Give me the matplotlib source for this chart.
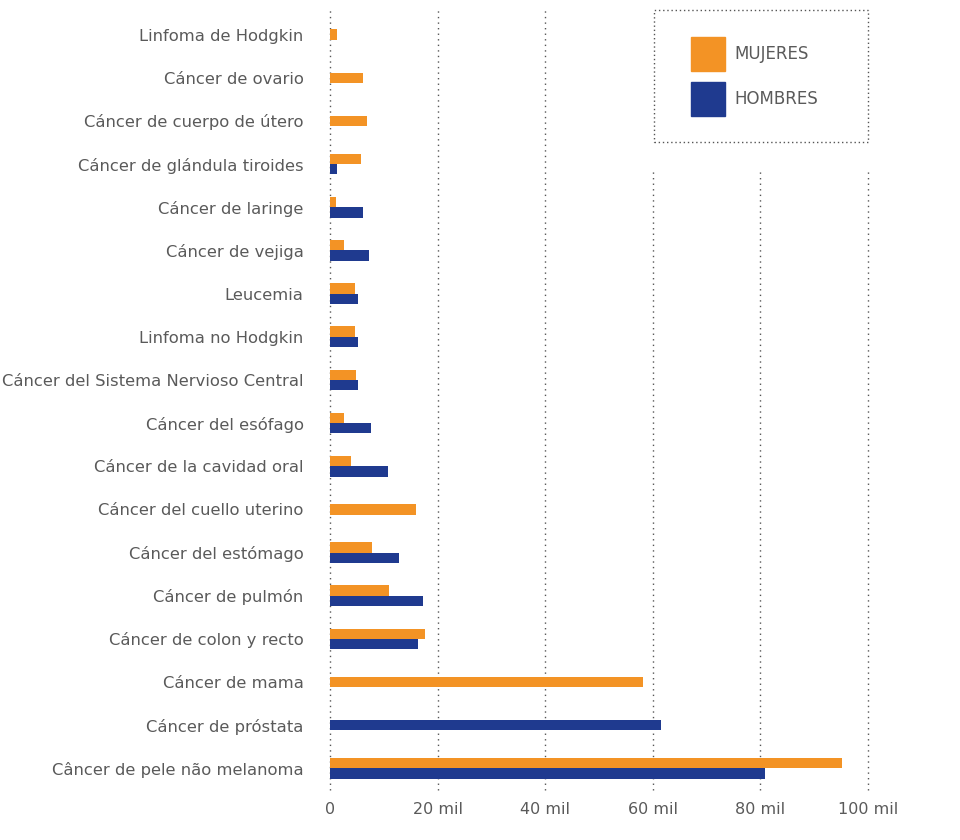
import matplotlib.pyplot as plt
import numpy as np
from matplotlib.patches import Rectangle

plt.rcParams['font.family'] = ['DejaVu Sans']

categorias = [
    "Linfoma de Hodgkin",
    "Cáncer de ovario",
    "Cáncer de cuerpo de útero",
    "Cáncer de glándula tiroides",
    "Cáncer de laringe",
    "Cáncer de vejiga",
    "Leucemia",
    "Linfoma no Hodgkin",
    "Cáncer del Sistema Nervioso Central",
    "Cáncer del esófago",
    "Cáncer de la cavidad oral",
    "Cáncer del cuello uterino",
    "Cáncer del estómago",
    "Cáncer de pulmón",
    "Cáncer de colon y recto",
    "Cáncer de mama",
    "Cáncer de próstata",
    "Câncer de pele não melanoma",
]
# miles de casos (None = sin barra)
mujeres = [1.3, 6.1, 6.9, 5.8, 1.1, 2.6, 4.6, 4.6, 4.8, 2.6, 3.9, 16.0, 7.8, 11.0, 17.7, 58.2, None, 95.2]
hombres = [None, None, None, 1.3, 6.1, 7.2, 5.2, 5.2, 5.2, 7.6, 10.8, None, 12.8, 17.3, 16.4, None, 61.5, 80.8]

ticks = [0, 20, 40, 60, 80, 100]
tick_labels = ["0", "20 mil", "40 mil", "60 mil", "80 mil", "100 mil"]

NARANJA = "#F39325"
AZUL = "#1F3A8F"
GRIS = "#5a5a5a"

fig = plt.figure(figsize=(9.6, 8.4), dpi=100)
ax = fig.add_axes([330/960, 1 - 790/840, 538/960, 780/840])

h = 0.24
for i in range(len(categorias)):
    m, hm = mujeres[i], hombres[i]
    if m is not None and hm is not None:
        ax.barh(i - h/2, m, height=h, color=NARANJA, zorder=3)
        ax.barh(i + h/2, hm, height=h, color=AZUL, zorder=3)
    elif m is not None:
        ax.barh(i, m, height=h, color=NARANJA, zorder=3)
    elif hm is not None:
        ax.barh(i, hm, height=h, color=AZUL, zorder=3)

ax.set_yticks(np.arange(len(categorias)))
ax.set_yticklabels(categorias, fontsize=11.8, color=GRIS)
ax.set_ylim(len(categorias) - 0.5, -0.57)
ax.set_xlim(0, 100)
ax.set_xticks(ticks)
ax.set_xticklabels(tick_labels, fontsize=11.5, color=GRIS)
ax.tick_params(length=0)
ax.tick_params(axis='y', pad=19)
ax.tick_params(axis='x', pad=9)
for s in ax.spines.values():
    s.set_visible(False)
ax.grid(axis='x', linestyle=(0, (1, 3)), color="#555555", linewidth=1, zorder=0)
for gl in ax.get_xgridlines():
    gl.set_clip_on(False)

# caja de la leyenda (fondo blanco y borde punteado)
ax.add_patch(Rectangle((0.59, 0.795), 0.42, 0.22, transform=ax.transAxes,
                       facecolor='white', edgecolor='none', zorder=4, clip_on=False))
ax.add_patch(Rectangle((0.602, 0.831), 0.398, 0.169, transform=ax.transAxes,
                       facecolor='white', edgecolor="#555555", linestyle=(0, (1, 2)),
                       linewidth=1, zorder=4.5, clip_on=False))

bar_m = Rectangle((0, 0), 1, 1, color=NARANJA)
bar_h = Rectangle((0, 0), 1, 1, color=AZUL)
leg = ax.legend([bar_m, bar_h], ["MUJERES", "HOMBRES"], loc='upper left',
                bbox_to_anchor=((691 - 330) / 538, 1 - 27 / 780), fontsize=12,
                handlelength=2.05, handleheight=2.75, labelspacing=0.65,
                borderpad=0, handletextpad=0.55, borderaxespad=0,
                frameon=False, labelcolor=GRIS)
leg.set_zorder(5)

fig.savefig("out.png", dpi=100)
